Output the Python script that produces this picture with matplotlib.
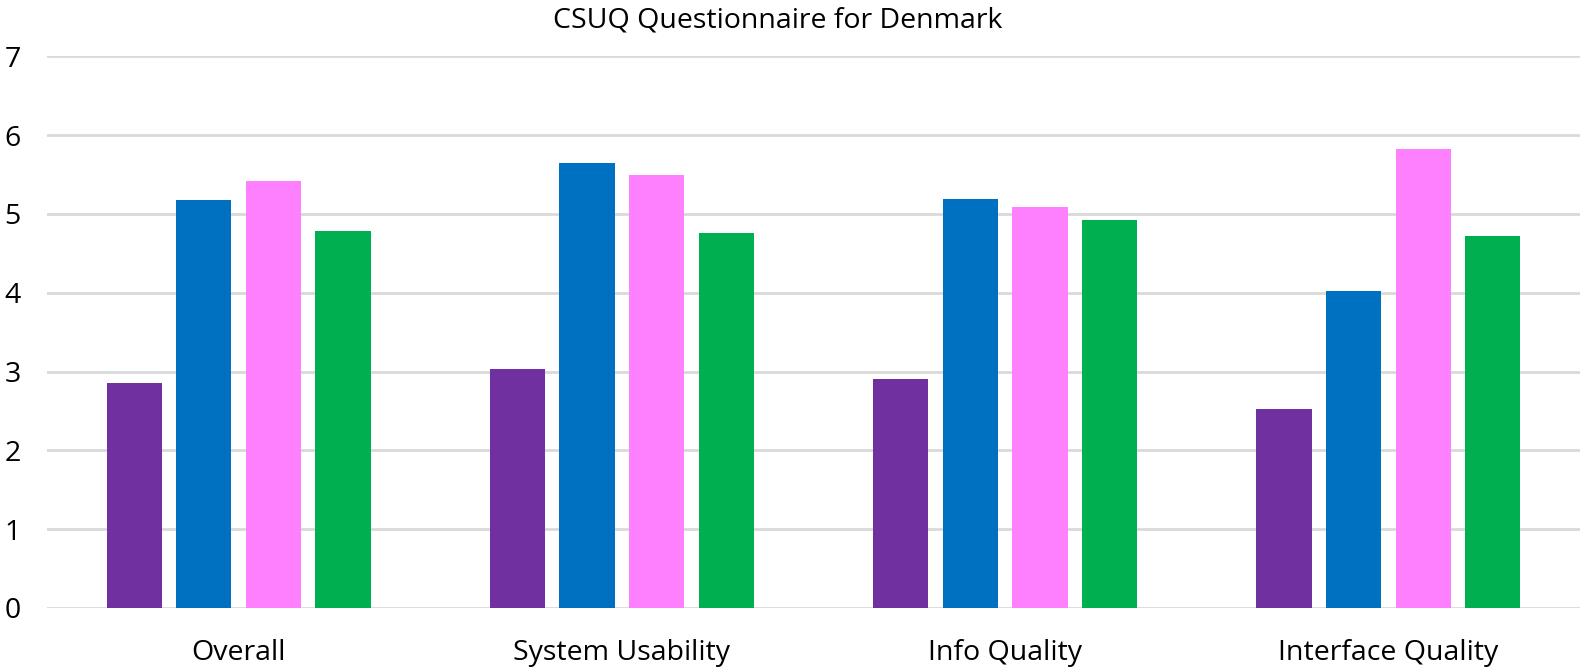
import numpy as np
import matplotlib.pyplot as plt

plt.rcParams['font.family'] = ['Open Sans', 'DejaVu Sans']

categories = ['Overall', 'System Usability', 'Info Quality', 'Interface Quality']
series_a = [2.85, 3.03, 2.91, 2.52]
series_b = [5.18, 5.65, 5.19, 4.02]
series_c = [5.42, 5.50, 5.09, 5.82]
series_d = [4.79, 4.76, 4.93, 4.72]
colors = ['#7030A0', '#0070C0', '#FF80FF', '#00B050']

fig = plt.figure(figsize=(15.81, 6.70), dpi=100)
ax = fig.add_axes([47 / 1581, 1 - 608 / 670, 1533 / 1581, (608 - 56.4) / 670])

x = np.arange(len(categories))
width = 0.144
step = 0.1817
for i, (vals, c) in enumerate(zip([series_a, series_b, series_c, series_d], colors)):
    ax.bar(x + (i - 1.5) * step, vals, width, color=c, zorder=3)

ax.set_xlim(-0.5, 3.5)
ax.set_ylim(0, 7)
ax.set_yticks(range(8))
ax.set_xticks(x)
ax.set_xticklabels(categories, fontsize=20.5)
ax.tick_params(axis='y', labelsize=20.5, length=0, pad=19)
ax.tick_params(axis='x', length=0, pad=22)
ax.grid(axis='y', color='#d9d9d9', linewidth=2, zorder=0)
for s in ax.spines.values():
    s.set_visible(False)

fig.suptitle('CSUQ Questionnaire for Denmark', fontsize=20.5, x=0.492, y=0.99, va='top')

fig.savefig('out.png', dpi=100)
